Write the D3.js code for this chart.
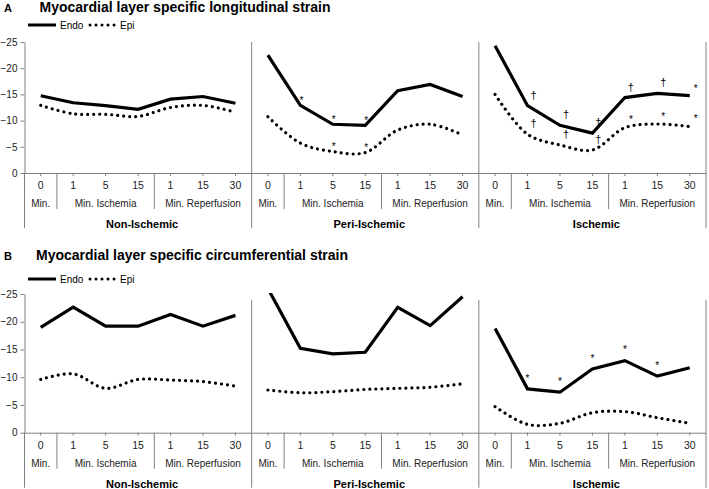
<!DOCTYPE html>
<html>
<head>
<meta charset="utf-8">
<script src="https://cdn.jsdelivr.net/npm/d3@7"></script>
<style>
  html, body { margin: 0; padding: 0; background: #fff; }
  svg { display: block; font-family: "Liberation Sans", Arial, sans-serif; }
</style>
</head>
<body>
<svg id="chart" width="709" height="489"></svg>
<script>
// ---------- data ----------
const catLabels = ["0", "1", "5", "15", "1", "15", "30"];
const groupLabels = ["Min.", "Min. Ischemia", "Min. Reperfusion"];
const groupSpans = [1, 3, 3];
const panelLabels = ["Non-Ischemic", "Peri-Ischemic", "Ischemic"];
const yTicks = [0, -5, -10, -15, -20, -25];
const seriesNames = ["Endo", "Epi"];

// 21 values each: Non-Ischemic (7), Peri-Ischemic (7), Ischemic (7)
const longEndo = [-14.75, -13.4, -12.85, -12.15, -14.1, -14.6, -13.3,
                  -22.5, -12.9, -9.3, -9.1, -15.7, -16.9, -14.6,
                  -24.3, -12.85, -9.1, -7.6, -14.4, -15.2, -14.75];
const longEpi  = [-12.9, -11.3, -11.2, -10.8, -12.5, -12.9, -11.6,
                  -10.75, -5.7, -4.1, -3.9, -8.2, -9.3, -7.25,
                  -15.0, -7.4, -5.35, -4.4, -8.65, -9.35, -8.85];
const circEndo = [-19.0, -22.65, -19.2, -19.2, -21.3, -19.2, -21.15,
                  -26.0, -15.2, -14.2, -14.5, -22.6, -19.3, -24.5,
                  -18.8, -7.9, -7.3, -11.5, -13.0, -10.2, -11.7];
const circEpi  = [-9.6, -10.6, -8.0, -9.6, -9.5, -9.2, -8.4,
                  -7.7, -7.2, -7.4, -7.8, -8.0, -8.2, -8.8,
                  -4.7, -1.5, -1.7, -3.6, -3.8, -2.7, -1.7];

// significance marks: [series, category index (0-20), symbol]
const longMarks = [
  ["Endo", 8, "*"], ["Endo", 9, "*"], ["Endo", 10, "*"],
  ["Epi", 9, "*"], ["Epi", 10, "*"],
  ["Endo", 15, "†"], ["Endo", 16, "†"], ["Endo", 17, "†"], ["Endo", 18, "†"], ["Endo", 19, "†"], ["Endo", 20, "*"],
  ["Epi", 15, "†"], ["Epi", 16, "†"], ["Epi", 17, "†"], ["Epi", 18, "*"], ["Epi", 19, "*"], ["Epi", 20, "*"]
];
const circMarks = [
  ["Endo", 15, "*"], ["Endo", 16, "*"], ["Endo", 17, "*"], ["Endo", 18, "*"], ["Endo", 19, "*"]
];

// ---------- drawing ----------
const svg = d3.select("#chart");
const nCat = catLabels.length * panelLabels.length;
const xLeft = 24.5, xRight = 706;
const x = d3.scaleBand().domain(d3.range(nCat)).range([xLeft, xRight]).padding(0);
const bw = x.bandwidth();
const cx = i => x(i) + bw / 2;
const axisColor = "#808080";
const FONT = "'Liberation Sans', Arial, sans-serif";
const DOTS = "0.01,6";

function drawChart(cfg) {
  const g = svg.append("g");
  const y = d3.scaleLinear().domain([0, -25]).range([cfg.bottom, cfg.top]);

  // letter + title
  g.append("text").attr("x", 4).attr("y", cfg.titleY).attr("font-size", 11)
    .attr("font-weight", "bold").text(cfg.letter);
  g.append("text").attr("x", cfg.titleX).attr("y", cfg.titleY).attr("font-size", 14)
    .attr("font-weight", "bold").text(cfg.title);

  // legend
  const lg = g.append("g");
  lg.append("line").attr("x1", 28).attr("x2", 56).attr("y1", cfg.legendY).attr("y2", cfg.legendY)
    .attr("stroke", "#000").attr("stroke-width", 3);
  lg.append("text").attr("x", 60).attr("y", cfg.legendY + 3.6).attr("font-size", 10).text(seriesNames[0]);
  lg.append("line").attr("x1", 90).attr("x2", 117).attr("y1", cfg.legendY).attr("y2", cfg.legendY)
    .attr("stroke", "#000").attr("stroke-width", 3).attr("stroke-linecap", "round").attr("stroke-dasharray", DOTS);
  lg.append("text").attr("x", 120).attr("y", cfg.legendY + 3.6).attr("font-size", 10).text(seriesNames[1]);

  // y axis
  const yAxis = d3.axisLeft(y).tickValues(yTicks).tickSize(4).tickSizeOuter(0).tickPadding(3)
    .tickFormat(d3.format("d"));
  const ya = g.append("g").attr("transform", `translate(${xLeft},0)`).call(yAxis);
  ya.select(".domain").attr("stroke", axisColor);
  ya.selectAll(".tick line").attr("stroke", axisColor);
  ya.selectAll("text").attr("font-size", 10).attr("font-family", FONT).attr("fill", "#222");
  g.append("line").attr("x1", xLeft).attr("x2", xLeft).attr("y1", cfg.bottom).attr("y2", cfg.bottom + 55)
    .attr("stroke", axisColor);

  // x axis
  const xAxis = d3.axisBottom(x).tickSize(3).tickSizeOuter(0).tickPadding(6)
    .tickFormat(i => catLabels[i % catLabels.length]);
  const xa = g.append("g").attr("transform", `translate(0,${cfg.bottom})`).call(xAxis);
  xa.select(".domain").attr("stroke", axisColor);
  xa.selectAll(".tick line").attr("stroke", axisColor);
  xa.selectAll("text").attr("font-size", 10.5).attr("font-family", FONT).attr("fill", "#222");

  // group + panel labels and dividers
  panelLabels.forEach((pl, p) => {
    const p0 = p * catLabels.length;
    let start = p0;
    groupSpans.forEach((span, gi) => {
      const gx0 = x(start), gx1 = x(start + span - 1) + bw;
      g.append("text").attr("x", (gx0 + gx1) / 2).attr("y", cfg.bottom + 34)
        .attr("text-anchor", "middle").attr("font-size", 10).attr("fill", "#222").text(groupLabels[gi]);
      if (gi > 0) {
        g.append("line").attr("x1", gx0).attr("x2", gx0).attr("y1", cfg.bottom).attr("y2", cfg.bottom + 36)
          .attr("stroke", axisColor);
      }
      start += span;
    });
    const px0 = x(p0), px1 = x(p0 + catLabels.length - 1) + bw;
    g.append("text").attr("x", (px0 + px1) / 2 + 4).attr("y", cfg.bottom + 55)
      .attr("text-anchor", "middle").attr("font-size", 11).attr("font-weight", "bold").text(pl);
    if (p > 0) {
      g.append("line").attr("x1", px0).attr("x2", px0).attr("y1", cfg.top + cfg.divOffset).attr("y2", cfg.bottom + 55)
        .attr("stroke", axisColor);
    }
    if (p === panelLabels.length - 1) {
      g.append("line").attr("x1", px1).attr("x2", px1).attr("y1", cfg.top + cfg.divOffset).attr("y2", cfg.bottom + 55)
        .attr("stroke", axisColor);
    }
  });

  // clip
  const clipId = "clip" + cfg.letter;
  g.append("clipPath").attr("id", clipId).append("rect")
    .attr("x", xLeft).attr("y", cfg.top - 1).attr("width", xRight - xLeft).attr("height", cfg.bottom - cfg.top + 1);

  const plot = g.append("g").attr("clip-path", `url(#${clipId})`);
  panelLabels.forEach((pl, p) => {
    const idx = d3.range(p * 7, p * 7 + 7);
    const lineStraight = d3.line().x(i => cx(i)).y(i => y(cfg.endo[i]));
    const lineSmooth = d3.line().x(i => cx(i)).y(i => y(cfg.epi[i])).curve(d3.curveCatmullRom.alpha(0.5));
    plot.append("path").attr("d", lineStraight(idx)).attr("fill", "none")
      .attr("stroke", "#000").attr("stroke-width", 3.2).attr("stroke-linejoin", "miter");
    plot.append("path").attr("d", lineSmooth(idx)).attr("fill", "none")
      .attr("stroke", "#000").attr("stroke-width", 3.2).attr("stroke-linecap", "round")
      .attr("stroke-dasharray", DOTS);
  });

  // marks
  cfg.marks.forEach(([s, i, sym]) => {
    const v = s === "Endo" ? cfg.endo[i] : cfg.epi[i];
    const p = Math.floor(i / 7);
    const fs = sym === "*" ? 10 : 11;
    const cyCenter = y(v) + cfg.markDy[p];
    const base = cyCenter + (sym === "*" ? 0.58 * fs : 0.28 * fs);
    g.append("text").attr("x", cx(i) + cfg.markDx[p]).attr("y", base)
      .attr("text-anchor", "middle").attr("font-size", fs).attr("fill", "#000").text(sym);
  });
}

drawChart({
  letter: "A", title: "Myocardial layer specific longitudinal strain",
  titleX: 39.5, titleY: 12, legendY: 25, top: 42, bottom: 173, divOffset: 0,
  endo: longEndo, epi: longEpi, marks: longMarks,
  markDx: [0, 1, 6], markDy: [-7, -7, -10]
});
drawChart({
  letter: "B", title: "Myocardial layer specific circumferential strain",
  titleX: 36, titleY: 260, legendY: 279, top: 294, bottom: 432.7, divOffset: 6,
  endo: circEndo, epi: circEpi, marks: circMarks,
  markDx: [0, 0, 0], markDy: [-13, -13, -13]
});
</script>
</body>
</html>
